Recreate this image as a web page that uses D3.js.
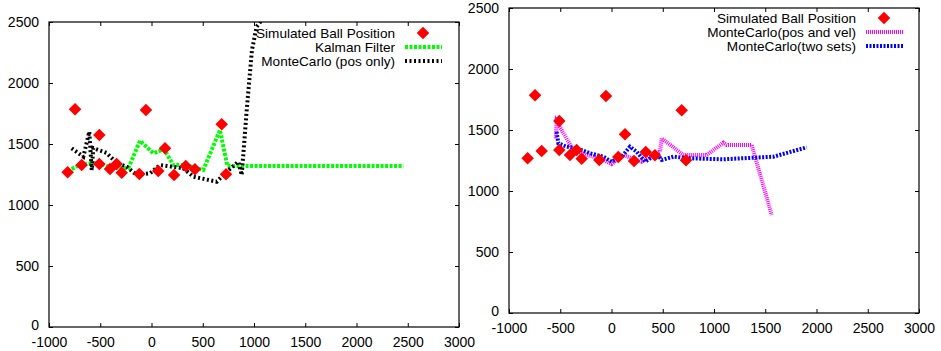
<!DOCTYPE html>
<html>
<head>
<meta charset="utf-8">
<script src="https://cdn.jsdelivr.net/npm/d3@7"></script>
<style>
  body { margin: 0; background: #fff; }
  text { font-family: "Liberation Sans", Arial, sans-serif; }
</style>
</head>
<body>
<svg id="chart" width="941" height="351"></svg>
<script>
// tick values
const xTicks = [-1000, -500, 0, 500, 1000, 1500, 2000, 2500, 3000];
const yTicks = [0, 500, 1000, 1500, 2000, 2500];

// simulated ball positions (same in both panels)
const ballX = [-818, -746, -681, -509, -509, -405, -340, -291, -119, -54, 66, 132, 220, 334, 424, 685, 727];
const ballY = [1268, 1784, 1328, 1574, 1336, 1295, 1336, 1265, 1254, 1779, 1279, 1465, 1246, 1320, 1293, 1661, 1252];

// Kalman filter
const kalmanX = [-818, -681, -509, -405, -226, -112, 18, 122, 213, 327, 505, 668, 740, 2457];
const kalmanY = [1279, 1336, 1344, 1311, 1301, 1527, 1424, 1457, 1328, 1328, 1287, 1615, 1320, 1320];

// MonteCarlo (pos only)
const mcPosX = [-779, -665, -607, -583, -568, -437, -340, -242, -144, -15, 83, 310, 408, 636, 717, 847, 880, 929, 980, 1026, 1078];
const mcPosY = [1465, 1396, 1601, 1287, 1467, 1426, 1344, 1314, 1246, 1260, 1328, 1301, 1232, 1191, 1260, 1355, 1246, 1779, 2270, 2461, 2520];

// MonteCarlo (pos and vel)
const mcVelX = [-544, -535, -373, -242, -112, 2, 115, 295, 408, 473, 490, 700, 929, 1091, 1124, 1368, 1563];
const mcVelY = [1432, 1568, 1336, 1295, 1268, 1221, 1295, 1240, 1295, 1322, 1432, 1295, 1295, 1396, 1377, 1377, 803];

// MonteCarlo (two sets)
const mcTwoX = [-535, -519, -437, -340, -210, -80, 2, 100, 180, 246, 327, 376, 441, 490, 603, 766, 1091, 1579, 1904];
const mcTwoY = [1486, 1391, 1363, 1350, 1309, 1281, 1240, 1281, 1363, 1322, 1240, 1268, 1309, 1254, 1281, 1268, 1260, 1281, 1358];

const svg = d3.select("#chart");
const W = 410, H = 305;

function zip(xs, ys) { return xs.map((v, i) => ({ x: v, y: ys[i] })); }

function drawPanel(cfg) {
    const g = svg.append("g").attr("transform", `translate(${cfg.left},${cfg.top})`);

    const x = d3.scaleLinear().domain([-1000, 3000]).range([0, W]);
    const y = d3.scaleLinear().domain([0, 2500]).range([H, 0]);

    g.append("defs").append("clipPath").attr("id", cfg.id)
        .append("rect").attr("width", W).attr("height", H);

    const plain = d => String(d);

    // axes with inward ticks, mirrored on top and right
    const bottom = g.append("g").attr("transform", `translate(0,${H})`)
        .call(d3.axisBottom(x).tickValues(xTicks).tickFormat(plain)
            .tickSizeInner(-4).tickSizeOuter(0).tickPadding(10));
    const left = g.append("g")
        .call(d3.axisLeft(y).tickValues(yTicks).tickFormat(plain)
            .tickSizeInner(-4).tickSizeOuter(0).tickPadding(10));
    const top = g.append("g")
        .call(d3.axisTop(x).tickValues(xTicks).tickSizeInner(-4).tickSizeOuter(0).tickFormat(""));
    const right = g.append("g").attr("transform", `translate(${W},0)`)
        .call(d3.axisRight(y).tickValues(yTicks).tickSizeInner(-4).tickSizeOuter(0).tickFormat(""));
    [bottom, left, top, right].forEach(a => {
        a.select(".domain").remove();
        a.selectAll("text").attr("font-size", 14).attr("fill", "#000")
            .style("font-family", "Liberation Sans, Arial, sans-serif");
    });
    // keep the "0" label clear of the first x label
    left.selectAll(".tick text").filter(d => d === 0).attr("dy", "0.2em");

    g.append("rect").attr("width", W).attr("height", H)
        .attr("fill", "none").attr("stroke", "#000").attr("stroke-width", 1.2);

    const line = d3.line().x(d => x(d.x)).y(d => y(d.y));
    const plot = g.append("g").attr("clip-path", `url(#${cfg.id})`);

    cfg.series.forEach(s => {
        plot.append("path")
            .datum(zip(s.xs, s.ys))
            .attr("fill", "none")
            .attr("stroke", s.color)
            .attr("stroke-width", 4)
            .attr("stroke-dasharray", s.dash)
            .attr("d", line);
    });

    const diamond = d3.symbol().type(d3.symbolDiamond2).size(100);
    plot.selectAll(".ball")
        .data(zip(ballX, ballY))
        .enter()
        .append("path")
        .attr("class", "ball")
        .attr("transform", d => `translate(${x(d.x)},${y(d.y)})`)
        .attr("d", diamond)
        .attr("fill", "#ff0000");

    // legend
    const leg = g.append("g");
    const rows = [{ name: "Simulated Ball Position", marker: true }].concat(cfg.series);
    rows.forEach((r, i) => {
        const ly = cfg.legTop + i * 14;
        leg.append("text")
            .attr("x", cfg.legText)
            .attr("y", ly)
            .attr("dy", "0.35em")
            .attr("text-anchor", "end")
            .attr("font-size", 13.6)
            .text(r.name);
        if (r.marker) {
            leg.append("path")
                .attr("transform", `translate(${cfg.legText + 28},${ly})`)
                .attr("d", diamond)
                .attr("fill", "#ff0000");
        } else {
            leg.append("line")
                .attr("x1", cfg.legText + 10).attr("x2", cfg.legText + 47)
                .attr("y1", ly).attr("y2", ly)
                .attr("stroke", r.color)
                .attr("stroke-width", 4)
                .attr("stroke-dasharray", r.dash);
        }
    });
}

drawPanel({
    id: "clipL", left: 49, top: 22, legTop: 11, legText: 346,
    series: [
        { name: "Kalman Filter", xs: kalmanX, ys: kalmanY, color: "#00ff00", dash: "3,1.5" },
        { name: "MonteCarlo (pos only)", xs: mcPosX, ys: mcPosY, color: "#000000", dash: "2,2.5" }
    ]
});

drawPanel({
    id: "clipR", left: 509, top: 8, legTop: 10, legText: 347,
    series: [
        { name: "MonteCarlo(pos and vel)", xs: mcVelX, ys: mcVelY, color: "#ff00ff", dash: "1,1" },
        { name: "MonteCarlo(two sets)", xs: mcTwoX, ys: mcTwoY, color: "#0000ff", dash: "2,1.5" }
    ]
});
</script>
</body>
</html>
